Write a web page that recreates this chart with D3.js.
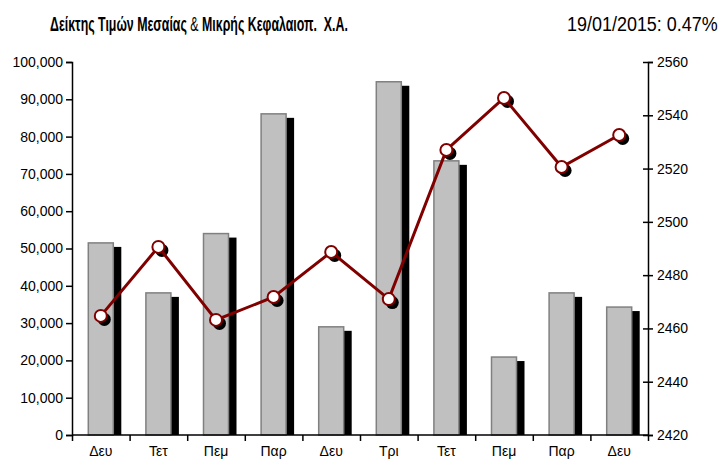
<!DOCTYPE html>
<html>
<head>
<meta charset="utf-8">
<script src="https://d3js.org/d3.v7.min.js"></script>
<style>
  body { margin: 0; background: #fff; }
  text { font-family: "Liberation Sans", Arial, sans-serif; }
  .axis path, .axis line { stroke: #000; stroke-width: 1.5; }
  .axis text { font-size: 14px; fill: #000; }
</style>
</head>
<body>
<svg id="chart" width="720" height="465"></svg>
<script>
// data
const days = ["Δευ", "Τετ", "Πεμ", "Παρ", "Δευ", "Τρι", "Τετ", "Πεμ", "Παρ", "Δευ"];
const volume = [51500, 38100, 54000, 86100, 29000, 94700, 73500, 20900, 38100, 34300];
const index = [2464.7, 2490.6, 2463.2, 2471.8, 2488.7, 2471.0, 2527.0, 2546.5, 2520.6, 2532.6];
const leftTicks = [0, 10000, 20000, 30000, 40000, 50000, 60000, 70000, 80000, 90000, 100000];
const rightTicks = [2420, 2440, 2460, 2480, 2500, 2520, 2540, 2560];

const svg = d3.select("#chart");
const margins = { top: 62, right: 72, bottom: 30, left: 72 };
const width = 720, height = 465;
const chartWidth = width - margins.left - margins.right;
const chartHeight = height - margins.top - margins.bottom;

const xScale = d3.scaleBand()
                 .domain(d3.range(days.length))
                 .range([0, chartWidth]);
const volScale = d3.scaleLinear().domain([0, 100000]).range([chartHeight, 0]);
const idxScale = d3.scaleLinear().domain([2420, 2560]).range([chartHeight, 0]);

const chartArea = svg.append("g")
                     .attr("transform", `translate(${margins.left},${margins.top})`);

// bars: black shadow behind, grey bar in front
const barW = 25, shadow = 8;
chartArea.selectAll("rect.shadow")
         .data(volume)
         .join("rect")
         .attr("class", "shadow")
         .attr("x", (d, i) => xScale(i) + xScale.bandwidth() / 2 - barW / 2 + shadow)
         .attr("y", d => volScale(d) + 4)
         .attr("width", barW)
         .attr("height", d => chartHeight - volScale(d) - 4)
         .attr("fill", "#000");
chartArea.selectAll("rect.bar")
         .data(volume)
         .join("rect")
         .attr("class", "bar")
         .attr("x", (d, i) => xScale(i) + xScale.bandwidth() / 2 - barW / 2)
         .attr("y", d => volScale(d))
         .attr("width", barW)
         .attr("height", d => chartHeight - volScale(d))
         .attr("fill", "#c0c0c0")
         .attr("stroke", "#808080")
         .attr("stroke-width", 1.5);

// axes
const leftAxis = d3.axisLeft(volScale).tickValues(leftTicks)
                   .tickFormat(d3.format(",")).tickSize(6).tickPadding(3);
svg.append("g").attr("class", "axis")
   .attr("transform", `translate(${margins.left},${margins.top})`)
   .call(leftAxis);

const rightAxis = d3.axisRight(idxScale).tickValues(rightTicks)
                    .tickFormat(d3.format("d")).tickSize(5).tickPadding(4);
const rAxisG = svg.append("g").attr("class", "axis")
   .attr("transform", `translate(${margins.left + chartWidth},${margins.top})`)
   .call(rightAxis);
rAxisG.selectAll(".tick line").attr("x1", -5);

const bottomAxis = d3.axisBottom(d3.scaleLinear().domain([0, days.length]).range([0, chartWidth]))
                     .ticks(days.length).tickSize(6).tickFormat("");
svg.append("g").attr("class", "axis")
   .attr("transform", `translate(${margins.left},${margins.top + chartHeight})`)
   .call(bottomAxis)
   .select(".domain").attr("d", `M0,0H${chartWidth}`);

svg.append("g").selectAll("text")
   .data(days)
   .join("text")
   .attr("x", (d, i) => margins.left + xScale(i) + xScale.bandwidth() / 2)
   .attr("y", margins.top + chartHeight + 21)
   .attr("text-anchor", "middle")
   .attr("font-size", 14)
   .text(d => d);

// index line
const lineGen = d3.line()
                  .x((d, i) => xScale(i) + xScale.bandwidth() / 2)
                  .y(d => idxScale(d));
chartArea.selectAll("circle.shadow")
         .data(index)
         .join("circle")
         .attr("cx", (d, i) => xScale(i) + xScale.bandwidth() / 2 + 3.5)
         .attr("cy", d => idxScale(d) + 3.5)
         .attr("r", 6.5)
         .attr("fill", "#000");
chartArea.append("path")
         .attr("d", lineGen(index))
         .attr("fill", "none")
         .attr("stroke", "#800000")
         .attr("stroke-width", 3);
chartArea.selectAll("circle.pt")
         .data(index)
         .join("circle")
         .attr("class", "pt")
         .attr("cx", (d, i) => xScale(i) + xScale.bandwidth() / 2)
         .attr("cy", d => idxScale(d))
         .attr("r", 6)
         .attr("fill", "#fff")
         .attr("stroke", "#800000")
         .attr("stroke-width", 2);

// header texts, squeezed horizontally to look like a narrow face
function squeeze(g, x, y, w) {
    const natural = g.node().getBBox().width;
    g.attr("transform", `translate(${x},${y}) scale(${w / natural},1)`);
}
const titleG = svg.append("g");
const title = titleG.append("text").attr("font-size", 20).style("white-space", "pre");
title.append("tspan").attr("font-weight", "bold").text("Δείκτης Τιμών Μεσαίας ");
title.append("tspan").text("& ");
title.append("tspan").attr("font-weight", "bold").text("Μικρής Κεφαλαιοπ.  Χ.Α.");
squeeze(titleG, 50, 31, 298);

const dateG = svg.append("g");
dateG.append("text").attr("font-size", 20).text("19/01/2015: 0.47%");
squeeze(dateG, 567, 31, 151);
</script>
</body>
</html>
